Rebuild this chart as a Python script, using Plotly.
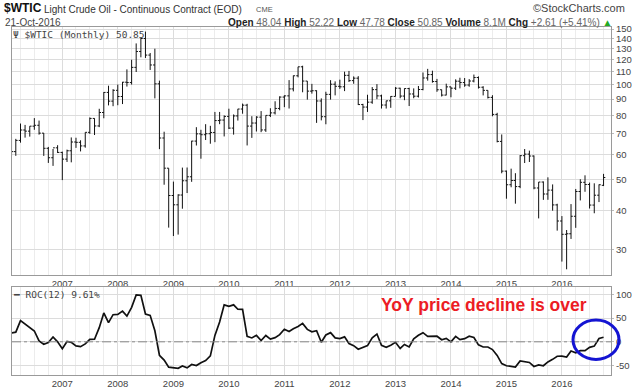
import plotly.graph_objects as go
import pandas as pd

# ---------------- data (monthly, Feb 2006 .. Oct 2016) ----------------
opens = [67.92, 61.41, 66.63, 71.88, 71.29, 73.93, 74.40, 70.26, 62.91, 58.73, 63.13,
         61.05, 58.14, 61.79, 65.87, 65.71, 64.01, 70.68, 78.21, 74.04, 81.66, 94.53, 88.71,
         95.98, 91.75, 101.84, 101.58, 113.46, 127.35, 140.00, 124.08, 115.46, 100.64, 67.81, 54.43,
         44.60, 41.68, 44.76, 49.66, 51.12, 66.31, 69.89, 69.45, 69.96, 70.61, 77.00, 77.28,
         79.36, 72.89, 79.66, 83.76, 86.15, 73.97, 75.63, 78.95, 71.92, 79.97, 81.43, 84.11,
         91.38, 92.19, 96.97, 106.72, 113.93, 102.70, 95.42, 95.70, 88.81, 79.20, 93.19, 100.36,
         98.83, 98.48, 107.07, 103.02, 104.87, 86.53, 84.96, 88.06, 96.47, 92.19, 86.24, 88.91,
         91.82, 97.49, 92.05, 97.23, 93.46, 91.97, 96.56, 105.03, 107.65, 102.33, 96.38, 92.72,
         98.42, 97.49, 102.59, 101.58, 99.74, 102.71, 105.37, 98.17, 95.96, 91.16, 80.54, 66.15,
         53.27, 48.24, 49.76, 47.60, 59.63, 60.30, 59.47, 47.12, 49.20, 45.09, 46.39, 41.65,
         37.04, 33.62, 33.75, 38.34, 45.92, 49.10, 48.33, 41.60, 44.70, 48.04]
highs = [68.35, 67.40, 75.35, 74.60, 73.93, 78.40, 77.00, 70.30, 63.55, 62.60, 64.35,
         61.40, 62.30, 68.09, 67.95, 66.70, 70.68, 78.77, 78.30, 83.90, 94.74, 99.29, 96.78,
         100.09, 102.08, 111.80, 119.93, 135.09, 140.39, 147.27, 126.00, 130.00, 103.00, 71.00, 54.40,
         49.35, 45.00, 54.66, 54.70, 66.46, 73.38, 72.00, 75.00, 74.11, 82.00, 82.00, 80.00,
         83.95, 80.51, 83.85, 87.15, 87.00, 79.50, 79.50, 82.50, 80.00, 84.24, 88.63, 91.88,
         92.58, 103.41, 106.95, 113.93, 114.83, 102.70, 100.62, 96.00, 90.52, 95.00, 103.37, 102.44,
         103.74, 109.95, 110.55, 106.23, 106.43, 87.00, 92.94, 98.29, 100.42, 93.00, 89.00, 91.99,
         98.24, 97.80, 97.35, 97.80, 97.35, 99.07, 109.32, 112.24, 110.74, 104.30, 96.50, 100.75,
         98.50, 104.00, 105.22, 104.99, 104.14, 107.68, 106.24, 98.89, 95.98, 92.63, 81.48, 69.60,
         53.50, 54.24, 52.48, 59.90, 62.58, 61.85, 59.73, 49.20, 49.42, 50.92, 48.36, 42.00,
         38.39, 34.69, 41.90, 46.78, 50.21, 51.67, 49.00, 48.75, 48.36, 52.22]
lows = [59.52, 59.55, 65.55, 68.00, 68.50, 72.00, 69.50, 59.52, 56.55, 55.35, 60.80,
        49.90, 56.95, 56.80, 63.10, 61.50, 63.20, 69.90, 69.30, 73.40, 78.30, 86.00, 85.50,
        86.11, 86.85, 98.65, 100.10, 109.70, 122.10, 121.51, 111.34, 90.51, 62.53, 48.25, 35.30,
        33.20, 33.55, 40.51, 45.41, 49.28, 64.21, 58.32, 66.82, 65.05, 65.79, 75.00, 68.59,
        72.43, 69.50, 77.00, 80.95, 64.24, 67.87, 71.10, 70.76, 70.90, 79.00, 80.50, 83.00,
        84.90, 84.06, 95.25, 105.50, 94.63, 89.69, 93.70, 75.71, 77.11, 74.95, 89.70, 92.52,
        97.00, 95.44, 102.00, 100.70, 86.22, 77.28, 82.00, 87.00, 90.00, 84.05, 84.05, 84.50,
        91.80, 90.60, 89.33, 85.61, 90.60, 91.10, 96.00, 103.00, 101.50, 94.95, 91.77, 92.55,
        91.24, 96.20, 97.37, 98.50, 98.54, 101.70, 97.23, 92.50, 90.43, 79.44, 65.69, 52.44,
        43.58, 47.36, 42.03, 47.05, 56.51, 56.94, 46.68, 37.75, 43.21, 43.23, 39.93, 34.53,
        27.56, 26.05, 32.50, 35.24, 43.03, 45.83, 40.57, 39.19, 42.52, 47.78]
closes = [61.41, 66.63, 71.88, 71.29, 73.93, 74.40, 70.26, 62.91, 58.73, 63.13, 61.05,
          58.14, 61.79, 65.87, 65.71, 64.01, 70.68, 78.21, 74.04, 81.66, 94.53, 88.71, 95.98,
          91.75, 101.84, 101.58, 113.46, 127.35, 140.00, 124.08, 115.46, 100.64, 67.81, 54.43, 44.60,
          41.68, 44.76, 49.66, 51.12, 66.31, 69.89, 69.45, 69.96, 70.61, 77.00, 77.28, 79.36,
          72.89, 79.66, 83.76, 86.15, 73.97, 75.63, 78.95, 71.92, 79.97, 81.43, 84.11, 91.38,
          92.19, 96.97, 106.72, 113.93, 102.70, 95.42, 95.70, 88.81, 79.20, 93.19, 100.36, 98.83,
          98.48, 107.07, 103.02, 104.87, 86.53, 84.96, 88.06, 96.47, 92.19, 86.24, 88.91, 91.82,
          97.49, 92.05, 97.23, 93.46, 91.97, 96.56, 105.03, 107.65, 102.33, 96.38, 92.72, 98.42,
          97.49, 102.59, 101.58, 99.74, 102.71, 105.37, 98.17, 95.96, 91.16, 80.54, 66.15, 53.27,
          48.24, 49.76, 47.60, 59.63, 60.30, 59.47, 47.12, 49.20, 45.09, 46.39, 41.65, 37.04,
          33.62, 33.75, 38.34, 45.92, 49.10, 48.33, 41.60, 44.70, 48.24, 50.85]
roc12 = [18.7, 20.3, 44.6, 37.2, 30.8, 22.8, 1.9, -5.0, -1.7, 10.1, 0.0,
         -14.4, 0.6, -1.1, -8.6, -10.2, -4.4, 5.1, 5.4, 29.8, 61.0, 40.5, 57.2,
         57.8, 64.8, 54.2, 72.7, 99.0, 98.1, 58.7, 55.9, 23.2, -28.3, -38.6, -53.5,
         -54.6, -56.0, -51.1, -54.9, -47.9, -50.1, -44.0, -39.4, -29.8, 13.6, 42.0, 77.9,
         74.9, 78.0, 68.7, 68.5, 11.6, 8.2, 13.7, 2.8, 13.3, 5.8, 8.8, 15.1,
         26.5, 21.7, 27.4, 32.2, 38.8, 26.2, 21.2, 23.5, -1.0, 14.4, 19.3, 8.2,
         6.8, 10.4, -3.5, -8.0, -15.7, -11.0, -8.0, 8.6, 16.4, -7.5, -11.4, -7.1,
         -1.0, -14.0, -5.6, -10.9, 6.3, 13.7, 19.3, 11.6, 11.0, 11.8, 4.3, 7.2,
         0.0, 11.5, 4.5, 6.7, 11.7, 9.1, -6.5, -10.9, -10.9, -16.4, -28.7, -45.9,
         -50.5, -51.5, -53.1, -40.2, -41.3, -43.6, -52.0, -48.7, -50.5, -42.4, -37.0, -30.5,
         -30.3, -32.2, -19.5, -23.0, -18.6, -18.7, -11.7, -9.1, 7.0, 9.6]
months = pd.date_range("2006-02-01", periods=len(closes), freq="MS")

price_ticks = [30, 40, 50, 60, 70, 80, 90, 100, 110, 120, 130, 140, 150]
roc_ticks = [-50, 0, 50, 100]

# ---------------- geometry helpers ----------------
W, H = 640, 388
L, R, T, B = 12, 29, 27, 13
PW, PH = W - L - R, H - T - B
def px(x):
    return (x - L) / PW
def py(y):
    return (H - B - y) / PH

GRID = "#dcdcdc"
MINOR = "#ececec"
FRAME = "#9a9a9a"
SANS = "Liberation Sans, Arial, sans-serif"
TICKF = dict(family=SANS, size=9.5, color="#444")
XR = ["2006-02-04", "2016-11-19"]

fig = go.Figure()
fig.add_trace(go.Ohlc(
    x=months, open=opens, high=highs, low=lows, close=closes,
    increasing=dict(line=dict(color="#111111", width=1)),
    decreasing=dict(line=dict(color="#111111", width=1)),
    tickwidth=0.42, xaxis="x", yaxis="y", showlegend=False, hoverinfo="skip"))
fig.add_trace(go.Scatter(
    x=months, y=roc12, mode="lines", line=dict(color="#111111", width=1.7),
    xaxis="x2", yaxis="y2", showlegend=False, hoverinfo="skip"))

xcommon = dict(type="date", range=XR, dtick="M12", tick0="2006-01-01", tickformat="%Y",
               showgrid=True, gridcolor=GRID, gridwidth=1,
               minor=dict(dtick="M3", tick0="2006-01-01", showgrid=True, gridcolor=MINOR),
               showline=True, linecolor=FRAME, linewidth=1, mirror=True,
               ticks="", tickfont=TICKF, zeroline=False, fixedrange=True)

fig.update_layout(
    width=W, height=H, paper_bgcolor="white", plot_bgcolor="white",
    margin=dict(l=L, r=R, t=T, b=B, autoexpand=False),
    showlegend=False,
    xaxis=dict(domain=[0, 1], anchor="y", rangeslider=dict(visible=False), **xcommon),
    yaxis=dict(domain=[py(275), 1], type="log", range=[1.3978, 2.1826], side="right",
               tickvals=price_ticks, ticktext=[str(v) for v in price_ticks],
               showgrid=True, gridcolor=GRID, showline=True, linecolor=FRAME, mirror=True,
               ticks="outside", ticklen=2, tickcolor="#bbb", tickfont=TICKF, fixedrange=True),
    xaxis2=dict(domain=[0, 1], anchor="y2", **xcommon),
    yaxis2=dict(domain=[0, py(287.3)], range=[-70, 115], side="right",
                tickvals=roc_ticks, ticktext=[str(v) for v in roc_ticks],
                showgrid=True, gridcolor=GRID, showline=True, linecolor=FRAME, mirror=True,
                zeroline=False, ticks="outside", ticklen=2, tickcolor="#bbb",
                tickfont=TICKF, fixedrange=True),
)

# zero reference line (dash-dot)
fig.add_shape(type="line", xref="x2 domain", x0=0, x1=1, yref="y2", y0=0, y1=0,
              line=dict(color="#8a8a8a", width=1, dash="dashdot"))
# blue ellipse highlight
fig.add_shape(type="circle", xref="paper", yref="paper",
              x0=px(573), x1=px(619), y0=py(359.5), y1=py(320),
              line=dict(color="#1414d2", width=3))

MONO = "DejaVu Sans Mono, Liberation Mono, monospace"

def ann(text, x, y, size, color="#222", xanchor="left", family=SANS, bold=False):
    if bold:
        text = "<b>" + text + "</b>"
    fig.add_annotation(text=text, xref="paper", yref="paper", x=px(x), y=py(y),
                       xanchor=xanchor, yanchor="middle", showarrow=False, borderpad=0,
                       font=dict(family=family, size=size, color=color))

ann("$WTIC", 3, 8, 12, "#111", bold=True)
ann("Light Crude Oil - Continuous Contract (EOD)", 43, 9, 10, "#333")
ann("CME", 255, 9, 7.5, "#555")
ann("©StockCharts.com", 626, 8, 11, "#444", xanchor="right")
ann("21-Oct-2016", 4, 22.5, 10, "#444")
ann("<b>Open</b> <span style='color:#666'>48.04</span> <b>High</b> <span style='color:#666'>52.22</span> "
    "<b>Low</b> <span style='color:#666'>47.78</span> <b>Close</b> <span style='color:#666'>50.85</span> "
    "<b>Volume</b> <span style='color:#666'>8.1M</span> <b>Chg</b> "
    "<span style='color:#666'>+2.61 (+5.41%)</span> <span style='color:#2a2'>▲</span>",
    613, 22.5, 10, "#222", xanchor="right")
ann("Ψ $WTIC (Monthly) 50.85", 12, 35, 9.5, "#444", family=MONO)
ann("<b>━</b> ROC(12) 9.61%", 12, 294, 9.5, "#444", family=MONO)
ann("YoY price decline is over", 484, 305, 17.5, "#ec1c24", xanchor="center", bold=True)

fig.write_html("out.html", config={"displayModeBar": False},
               post_script="document.body.style.margin='0px';")
